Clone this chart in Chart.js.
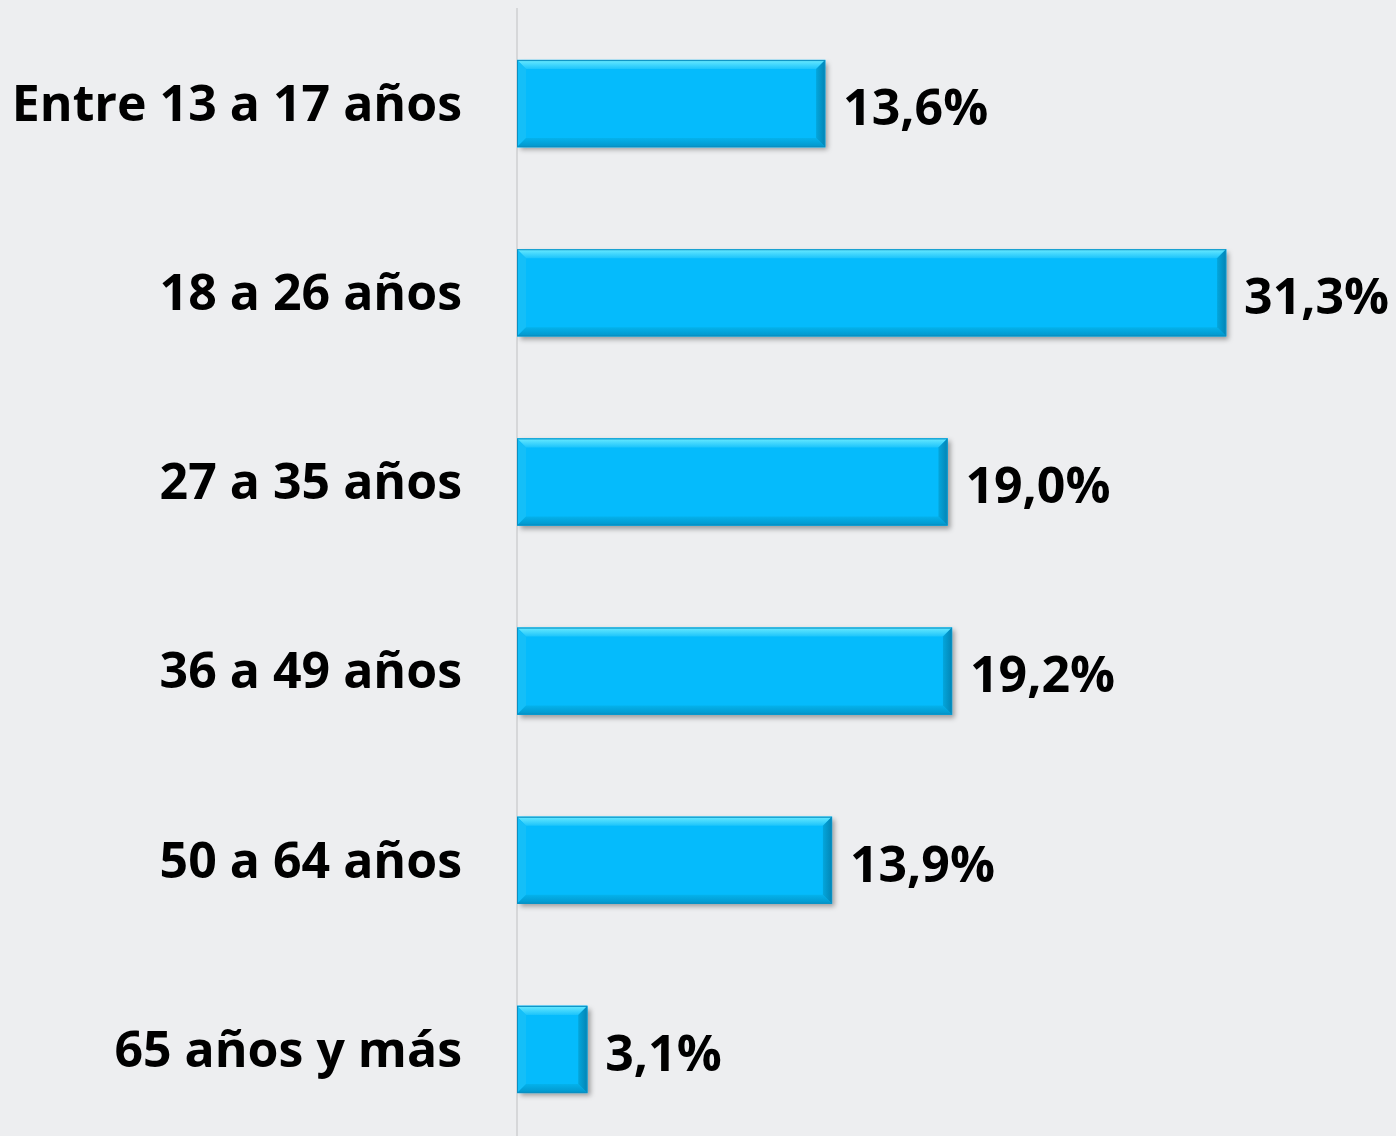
<!DOCTYPE html>
<html>
<head>
<meta charset="utf-8">
<script src="https://cdn.jsdelivr.net/npm/chart.js@4.4.1/dist/chart.umd.min.js"></script>
<style>
  html, body { margin: 0; padding: 0; background: #edeef0; overflow: hidden; }
  #wrap { width: 1396px; height: 1144px; }
</style>
</head>
<body>
<div id="wrap"><canvas id="grafico"></canvas></div>
<script>
var edades = ['Entre 13 a 17 años', '18 a 26 años', '27 a 35 años', '36 a 49 años', '50 a 64 años', '65 años y más'];
var porcentajes = [13.6, 31.3, 19.0, 19.2, 13.9, 3.1];
var etiquetas = ['13,6%', '31,3%', '19,0%', '19,2%', '13,9%', '3,1%'];

var fuente = '"Open Sans", "DejaVu Sans", sans-serif';

// sombra debajo de las barras
var sombra = {
    id: 'sombra',
    beforeDatasetDraw: function (chart) {
        var ctx = chart.ctx;
        ctx.save();
        ctx.shadowColor = 'rgba(0,0,0,0.35)';
        ctx.shadowBlur = 5;
        ctx.shadowOffsetX = 3;
        ctx.shadowOffsetY = 3;
    },
    afterDatasetDraw: function (chart) {
        chart.ctx.restore();
    }
};

// bisel y etiquetas de valor
var bisel = {
    id: 'bisel',
    afterDatasetsDraw: function (chart) {
        var ctx = chart.ctx;
        var meta = chart.getDatasetMeta(0);
        meta.data.forEach(function (bar, i) {
            var p = bar.getProps(['x', 'y', 'base', 'height'], true);
            var l = p.base, r = p.x, t = p.y - p.height / 2, b = p.y + p.height / 2;
            var w = 9;
            ctx.save();
            // arriba
            var g = ctx.createLinearGradient(0, t, 0, t + w);
            g.addColorStop(0, '#6aeaff');
            g.addColorStop(1, '#1cc4fb');
            ctx.fillStyle = g;
            ctx.beginPath();
            ctx.moveTo(l, t); ctx.lineTo(r, t); ctx.lineTo(r - w, t + w); ctx.lineTo(l + w, t + w);
            ctx.closePath(); ctx.fill();
            // izquierda
            ctx.fillStyle = '#14bff8';
            ctx.beginPath();
            ctx.moveTo(l, t); ctx.lineTo(l + w, t + w); ctx.lineTo(l + w, b - w); ctx.lineTo(l, b);
            ctx.closePath(); ctx.fill();
            // abajo
            g = ctx.createLinearGradient(0, b - w, 0, b);
            g.addColorStop(0, '#04b2ec');
            g.addColorStop(1, '#0296ca');
            ctx.fillStyle = g;
            ctx.beginPath();
            ctx.moveTo(l, b); ctx.lineTo(r, b); ctx.lineTo(r - w, b - w); ctx.lineTo(l + w, b - w);
            ctx.closePath(); ctx.fill();
            // derecha
            g = ctx.createLinearGradient(r - w, 0, r, 0);
            g.addColorStop(0, '#04a6dc');
            g.addColorStop(1, '#0385b5');
            ctx.fillStyle = g;
            ctx.beginPath();
            ctx.moveTo(r, t); ctx.lineTo(r, b); ctx.lineTo(r - w, b - w); ctx.lineTo(r - w, t + w);
            ctx.closePath(); ctx.fill();
            ctx.strokeStyle = '#0a8fc2';
            ctx.lineWidth = 1;
            ctx.strokeRect(l + 0.5, t + 0.5, r - l - 1, b - t - 1);

            ctx.fillStyle = '#000';
            ctx.font = 'bold 50px ' + fuente;
            ctx.textAlign = 'left';
            ctx.textBaseline = 'middle';
            ctx.fillText(etiquetas[i], r + 18, p.y + 7);
            ctx.restore();
        });
    }
};

var ctx = document.getElementById('grafico');
var myChart = new Chart(ctx, {
    type: 'bar',
    data: {
        labels: edades,
        datasets: [{
            data: porcentajes,
            backgroundColor: '#05bbfc',
            borderWidth: 0,
            barThickness: 87
        }]
    },
    options: {
        indexAxis: 'y',
        responsive: true,
        maintainAspectRatio: false,
        animation: false,
        layout: { padding: { top: 9, right: 0, bottom: 0, left: 0 } },
        plugins: {
            legend: { display: false },
            tooltip: { enabled: false }
        },
        scales: {
            x: {
                display: false,
                min: 0,
                max: 38.8
            },
            y: {
                afterFit: function (scale) {
                    scale.width = 517;
                    scale.paddingTop = 0;
                    scale.paddingBottom = 0;
                },
                grid: { display: false },
                border: { display: true, color: '#d6d7d9', width: 2 },
                ticks: {
                    color: '#000',
                    padding: 47,
                    labelOffset: 3,
                    font: { family: fuente, size: 50, weight: 'bold' }
                }
            }
        }
    },
    plugins: [sombra, bisel]
});
</script>
</body>
</html>
